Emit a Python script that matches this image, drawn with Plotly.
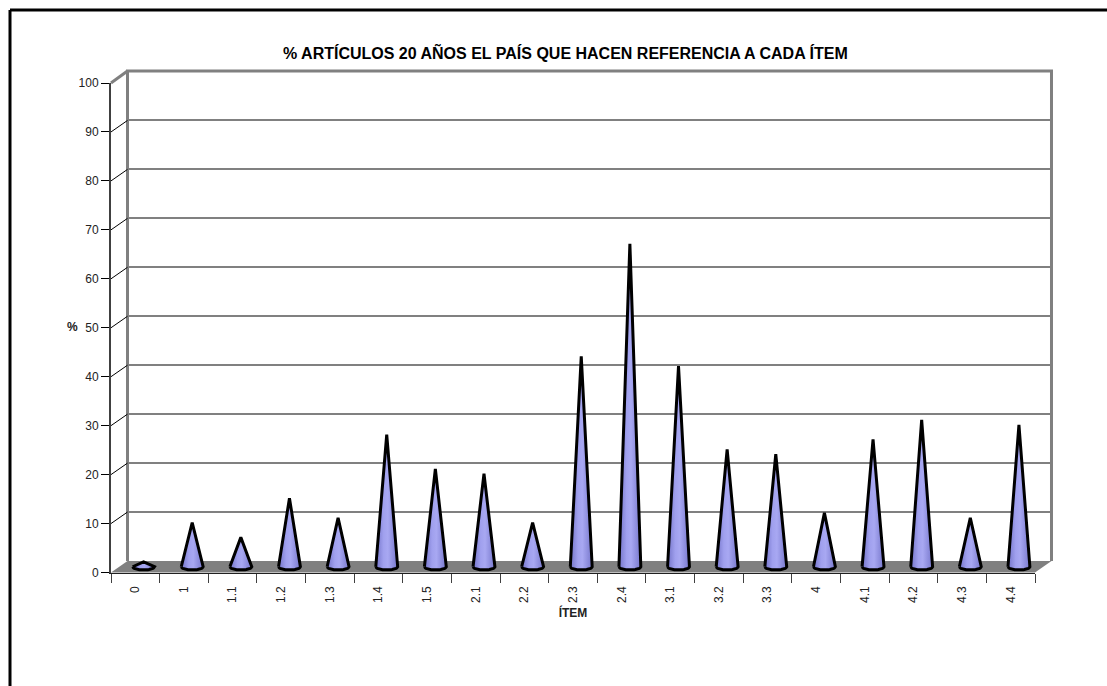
import numpy as np
import plotly.graph_objects as go

items = ["0", "1", "1.1", "1.2", "1.3", "1.4", "1.5", "2.1", "2.2", "2.3", "2.4",
         "3.1", "3.2", "3.3", "4", "4.1", "4.2", "4.3", "4.4"]
percent = [1, 9, 6, 14, 10, 27, 20, 19, 9, 43, 66, 41, 24, 23, 11, 26, 30, 10, 29]
y_ticks = [0, 10, 20, 30, 40, 50, 60, 70, 80, 90, 100]

W, H = 1107, 686
FONT = "Liberation Sans"
GREY = "#808080"

# pixel corners of the fake 3d box
FRONT_L, FRONT_R, FRONT_T, FRONT_B = 111, 1035, 83, 572.5
WALL_L, WALL_R, WALL_T, WALL_B = 127.5, 1051.5, 71, 561


def dom_x(a, b):
    return [a / W, b / W]


def dom_y(top, bottom):
    return [1 - bottom / H, 1 - top / H]


def page_path(points, close=False):
    # svg path in paper coordinates from pixel points
    parts = [f"{x / W:.5f},{1 - y / H:.5f}" for x, y in points]
    return "M" + " L".join(parts) + (" Z" if close else "")


n = len(items)
# depth of the box, in front axis units
depth_x = (WALL_L - FRONT_L) / ((FRONT_R - FRONT_L) / n)
depth_y = (FRONT_B - WALL_B) / ((FRONT_B - FRONT_T) / 100)
left = -0.5
right = n - 0.5

fig = go.Figure()

# invisible trace so the back wall axes get drawn
fig.add_trace(go.Scatter(x=[0], y=[0], xaxis="x", yaxis="y", mode="markers",
                         marker=dict(opacity=0), hoverinfo="skip", showlegend=False))

# diagonals from the front axis to the wall
dx, dy = [], []
for v in y_ticks[1:-1]:
    dx += [left, left + depth_x, None]
    dy += [v, v + depth_y, None]
fig.add_trace(go.Scatter(x=dx, y=dy, xaxis="x2", yaxis="y2", mode="lines",
                         line=dict(color="black", width=1),
                         hoverinfo="skip", showlegend=False))

# cones
radius = 0.225
squash = 0.65
t = np.linspace(0, np.pi, 25)
for i, v in enumerate(percent):
    cx = i + depth_x / 2
    base = depth_y / 2
    xs = [cx - radius, cx] + list(cx + radius * np.cos(t))
    ys = [base, base + v] + list(base - squash * np.sin(t))
    fig.add_trace(go.Scatter(
        x=xs, y=ys, xaxis="x2", yaxis="y2", mode="lines", fill="toself",
        fillgradient=dict(type="horizontal",
                          colorscale=[[0, "#7373c8"], [0.35, "#a0a0ee"],
                                      [0.55, "#a8a8f2"], [1, "#7777cc"]]),
        line=dict(color="black", width=3),
        name=items[i], showlegend=False))

fig.update_layout(
    width=W, height=H,
    margin=dict(l=0, r=0, t=0, b=0, autoexpand=False),
    paper_bgcolor="white", plot_bgcolor="rgba(0,0,0,0)",
    font=dict(family=FONT, size=12, color="black"),
    showlegend=False,
    # back wall
    xaxis=dict(domain=dom_x(WALL_L, WALL_R), range=[0, 1], showgrid=False, zeroline=False,
               showticklabels=False, ticks="", showline=False),
    yaxis=dict(domain=dom_y(WALL_T, WALL_B), range=[0, 100], tickvals=y_ticks, showgrid=True,
               gridcolor=GREY, gridwidth=2, zeroline=False, showticklabels=False, ticks="",
               showline=False),
    # front axes, the cones hang off these
    xaxis2=dict(domain=dom_x(FRONT_L, FRONT_R), range=[left, right], anchor="y2",
                tickmode="array", tickvals=list(range(n)), ticktext=items, tickangle=-90,
                tickfont=dict(size=12, color="#222222"), ticks="outside", ticklen=8, tickcolor="rgba(0,0,0,0)",
                minor=dict(tickmode="array", tickvals=[k - 0.5 for k in range(n + 1)],
                           ticks="outside", ticklen=9, tickcolor="#404040", tickwidth=1),
                showgrid=False, zeroline=False, showline=True, linecolor="#202020", linewidth=1,
                title=dict(text="<b>ÍTEM</b>", font=dict(family=FONT, size=12, color="#222222"), standoff=6)),
    yaxis2=dict(domain=dom_y(FRONT_T, FRONT_B), range=[0, 100], anchor="x2",
                tickmode="array", tickvals=y_ticks, ticks="outside", ticklen=8, tickcolor="black",
                tickfont=dict(size=12, color="#222222"), showgrid=False, zeroline=False,
                showline=True, linecolor="#404040", linewidth=2),
    annotations=[dict(text="<b>% ARTÍCULOS 20 AÑOS EL PAÍS QUE HACEN REFERENCIA A CADA ÍTEM</b>",
                      xref="paper", yref="paper", x=565 / W, y=1 - 52 / H, yanchor="middle", showarrow=False,
                      font=dict(family=FONT, size=16, color="black")),
                 dict(text="<b>%</b>", xref="paper", yref="paper", x=65 / W, y=1 - 327 / H,
                      yanchor="middle", showarrow=False, font=dict(family=FONT, size=12, color="#222222"))],
    shapes=[
        # wall outline and top corner of the box
        dict(type="path", xref="paper", yref="paper", layer="below",
             path=page_path([(WALL_L, WALL_B), (WALL_L, WALL_T), (WALL_R, WALL_T), (WALL_R, WALL_B)]),
             line=dict(color=GREY, width=3)),
        dict(type="path", xref="paper", yref="paper", layer="below",
             path=page_path([(FRONT_L, FRONT_T), (WALL_L, WALL_T)]),
             line=dict(color=GREY, width=3)),
        # floor
        dict(type="path", xref="paper", yref="paper", layer="below",
             path=page_path([(FRONT_L, FRONT_B), (FRONT_R, FRONT_B), (WALL_R, WALL_B), (WALL_L, WALL_B)], close=True),
             fillcolor=GREY, line=dict(width=0)),
        # the black page frame only shows at the top and left
        dict(type="line", xref="paper", yref="paper", x0=10 / W, x1=1, y0=1 - 10 / H, y1=1 - 10 / H,
             line=dict(color="black", width=3)),
        dict(type="line", xref="paper", yref="paper", x0=10 / W, x1=10 / W, y0=0, y1=1 - 10 / H,
             line=dict(color="black", width=3)),
    ],
)

# the page's default body margin would push everything 8px down and right
fig.write_html("out.html", config={"displayModeBar": False},
               post_script="document.body.style.margin='0';")
